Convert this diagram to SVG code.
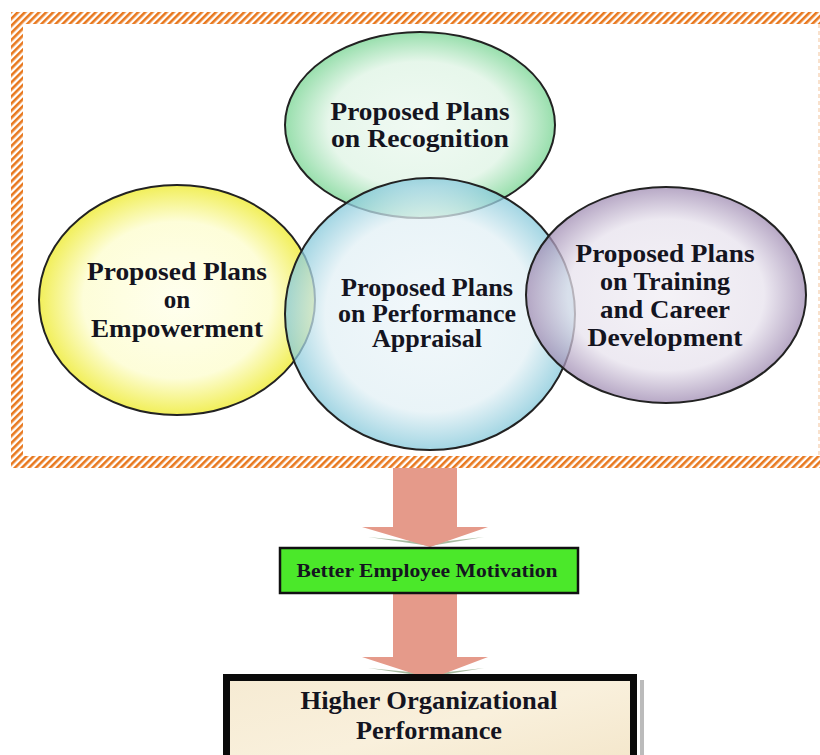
<svg xmlns="http://www.w3.org/2000/svg" width="820" height="755" viewBox="0 0 820 755">
<style>
.t{font-family:"Liberation Serif","Times New Roman",serif;font-weight:bold;fill:#14141f;text-anchor:middle}
.big{font-size:25px}
.ell{stroke:#222;stroke-width:2}
.arrow{fill:#E59A8A}
</style>
<defs>
<pattern id="hatch" width="5" height="5" patternUnits="userSpaceOnUse" patternTransform="rotate(45)">
<rect width="5" height="5" fill="#fff"/>
<rect width="2.6" height="5" fill="#E8781E"/>
</pattern>
<radialGradient id="gG" cx="0.5" cy="0.5" r="0.5">
<stop offset="0" stop-color="#EEF9F1"/><stop offset="0.68" stop-color="#E2F5E7"/><stop offset="1" stop-color="#86D99E"/>
</radialGradient>
<radialGradient id="gY" cx="0.5" cy="0.5" r="0.5">
<stop offset="0" stop-color="#FFFFEC"/><stop offset="0.68" stop-color="#FDFDD2"/><stop offset="1" stop-color="#EFEC3C"/>
</radialGradient>
<radialGradient id="gB" cx="0.5" cy="0.5" r="0.5">
<stop offset="0" stop-color="#EDF5F9"/><stop offset="0.72" stop-color="#E2F0F5"/><stop offset="1" stop-color="#84C8DA"/>
</radialGradient>
<radialGradient id="gP" cx="0.5" cy="0.5" r="0.5">
<stop offset="0" stop-color="#F1EEF4"/><stop offset="0.7" stop-color="#E7E2ED"/><stop offset="1" stop-color="#9F8BB2"/>
</radialGradient>
<linearGradient id="parch" x1="0" y1="0" x2="1" y2="1">
<stop offset="0" stop-color="#F6EBD3"/><stop offset="0.5" stop-color="#F9F0DC"/><stop offset="1" stop-color="#F3E5C8"/>
</linearGradient>
</defs>

<g id="frame">
<path d="M11 12 H820 V24 H23 V456 H820 V468 H11 Z" fill="url(#hatch)"/>
<line x1="819" y1="24" x2="819" y2="456" stroke="#F2C39A" stroke-width="1" stroke-dasharray="4 3"/>
</g>

<g id="recognition">
<ellipse class="ell" cx="420" cy="125" rx="135" ry="93" fill="url(#gG)" fill-opacity="0.85"/>
</g>
<g id="empowerment">
<ellipse class="ell" cx="177" cy="300" rx="138" ry="115" fill="url(#gY)" fill-opacity="0.85"/>
</g>
<g id="appraisal">
<ellipse class="ell" cx="430" cy="314" rx="145" ry="136" fill="url(#gB)" fill-opacity="0.75"/>
</g>
<g id="training">
<ellipse class="ell" cx="666" cy="295" rx="140" ry="108" fill="url(#gP)" fill-opacity="0.75"/>
</g>

<g id="labels">
<text class="t big"><tspan x="420" y="120" textLength="179" lengthAdjust="spacingAndGlyphs">Proposed Plans</tspan><tspan x="420" y="147" textLength="178" lengthAdjust="spacingAndGlyphs">on Recognition</tspan></text>
<text class="t big"><tspan x="177" y="280" textLength="180" lengthAdjust="spacingAndGlyphs">Proposed Plans</tspan><tspan x="177" y="308">on</tspan><tspan x="177" y="337" textLength="172" lengthAdjust="spacingAndGlyphs">Empowerment</tspan></text>
<text class="t big"><tspan x="427" y="296" textLength="172" lengthAdjust="spacingAndGlyphs">Proposed Plans</tspan><tspan x="427" y="322" textLength="178" lengthAdjust="spacingAndGlyphs">on Performance</tspan><tspan x="427" y="347" textLength="110" lengthAdjust="spacingAndGlyphs">Appraisal</tspan></text>
<text class="t big"><tspan x="665" y="262" textLength="179" lengthAdjust="spacingAndGlyphs">Proposed Plans</tspan><tspan x="665" y="290" textLength="130" lengthAdjust="spacingAndGlyphs">on Training</tspan><tspan x="665" y="318" textLength="130" lengthAdjust="spacingAndGlyphs">and Career</tspan><tspan x="665" y="346" textLength="155" lengthAdjust="spacingAndGlyphs">Development</tspan></text>
</g>

<g id="connectors">
<polygon points="368,537 430,546 484,537 430,543" fill="#6E8F62" opacity="0.6"/>
<polygon class="arrow" points="393,468 457,468 457,527 488,527 430,547 362,527 393,527"/>
<polygon points="368,668 430,677 484,668 430,674" fill="#6E8F62" opacity="0.6"/>
<polygon class="arrow" points="393,594 457,594 457,657 488,657 430,679 362,657 393,657"/>
</g>

<g id="motivation">
<rect x="280" y="548" width="298" height="45" fill="#4BE82A" stroke="#111" stroke-width="2.5"/>
<text class="t" x="427" y="577" font-size="19" textLength="261" lengthAdjust="spacingAndGlyphs">Better Employee Motivation</text>
</g>

<g id="performance">
<rect x="640" y="680" width="4" height="80" fill="#777" opacity="0.5"/>
<rect x="226.5" y="677.5" width="407" height="100" fill="url(#parch)" stroke="#0a0a0a" stroke-width="7"/>
<text class="t big"><tspan x="429" y="709" textLength="257" lengthAdjust="spacingAndGlyphs">Higher Organizational</tspan><tspan x="429" y="739" textLength="146" lengthAdjust="spacingAndGlyphs">Performance</tspan></text>
</g>
</svg>
